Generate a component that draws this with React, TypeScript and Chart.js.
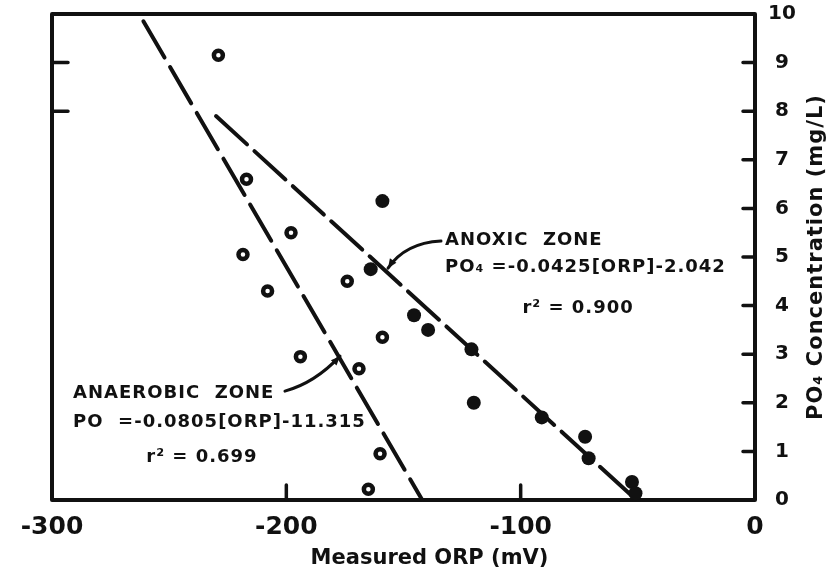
import React, { useEffect, useRef } from "react";
import { Chart, registerables } from "chart.js";

Chart.register(...registerables);

// ---- data ----
const xTickValues = [-300, -200, -100, 0];
const yTickValues = [0, 1, 2, 3, 4, 5, 6, 7, 8, 9, 10];

const anaerobicORP = [-229, -217, -198, -218.5, -208, -174, -194, -169, -159, -160, -165];
const anaerobicPO4 = [9.15, 6.6, 5.5, 5.05, 4.3, 4.5, 2.95, 2.7, 3.35, 0.95, 0.22];

const anoxicORP = [-159, -164, -145.5, -139.5, -121, -120, -91, -72.5, -71, -52.5, -51];
const anoxicPO4 = [6.15, 4.75, 3.8, 3.5, 3.1, 2.0, 1.7, 1.3, 0.86, 0.37, 0.14];

const anaerobicFitORP = [-261, -142];
const anaerobicFitPO4 = [9.85, 0];
const anoxicFitORP = [-230, -52];
const anoxicFitPO4 = [7.9, 0.06];

const rightInnerTicks = [1, 2, 3, 4, 5, 6, 7, 8, 9];
const leftInnerTicks = [8, 9];
const bottomInnerTicks = [-200, -100];

const xTitle = "Measured ORP (mV)";
const yTitle = "PO\u2084 Concentration (mg/L)";

const anoxicLines = ["ANOXIC  ZONE", "PO\u2084 =-0.0425[ORP]-2.042", "r\u00B2 = 0.900"];
const anaerobicLines = ["ANAEROBIC  ZONE", "PO  =-0.0805[ORP]-11.315", "r\u00B2 = 0.699"];

// annotation anchors in data units [ORP, PO4]
const anoxicTextAt = [[-132.3, 5.35], [-132.3, 4.79], [-75.5, 3.95]];
const anaerobicTextAt = [[-291, 2.2], [-291, 1.6], [-236, 0.88]];
const anoxicLeader = [[-134, 5.33], [-149.4, 5.29], [-156.6, 4.77]];
const anaerobicLeader = [[-200.6, 2.24], [-187.8, 2.41], [-177.1, 2.96]];

const INK = "#111";
const FONT = "'DejaVu Sans', sans-serif";

const zip = (xs: number[], ys: number[]) => xs.map((x, i) => ({ x, y: ys[i] }));

const decorPlugin = {
  id: "decor",
  beforeDatasetsDraw(chart: any) {
    const { ctx, chartArea: a, scales } = chart;
    const xs = scales.x;
    const ys = scales.y;
    ctx.save();
    ctx.strokeStyle = INK;
    ctx.lineWidth = 4;
    ctx.lineCap = "round";
    ctx.lineJoin = "round";
    ctx.strokeRect(a.left, a.top, a.right - a.left, a.bottom - a.top);
    ctx.lineWidth = 3.5;
    ctx.beginPath();
    rightInnerTicks.forEach((v) => {
      const py = ys.getPixelForValue(v);
      ctx.moveTo(a.right, py);
      ctx.lineTo(a.right - 12, py);
    });
    leftInnerTicks.forEach((v) => {
      const py = ys.getPixelForValue(v);
      ctx.moveTo(a.left, py);
      ctx.lineTo(a.left + 16, py);
    });
    bottomInnerTicks.forEach((v) => {
      const px = xs.getPixelForValue(v);
      ctx.moveTo(px, a.bottom);
      ctx.lineTo(px, a.bottom - 15);
    });
    ctx.stroke();
    ctx.restore();
  },
  afterDatasetsDraw(chart: any) {
    const { ctx, chartArea: a, scales } = chart;
    const xs = scales.x;
    const ys = scales.y;
    const P = (p: number[]) => [xs.getPixelForValue(p[0]), ys.getPixelForValue(p[1])];
    ctx.save();
    ctx.fillStyle = INK;
    ctx.strokeStyle = INK;

    // axis titles
    ctx.font = `bold 21px ${FONT}`;
    ctx.textAlign = "center";
    ctx.textBaseline = "middle";
    ctx.fillText(xTitle, (a.left + a.right) / 2 + 26, a.bottom + 59);
    ctx.save();
    ctx.translate(a.right + 62, (a.top + a.bottom) / 2);
    ctx.rotate(-Math.PI / 2);
    ctx.font = `bold 21px ${FONT}`;
    (ctx as any).letterSpacing = "1px";
    ctx.fillText(yTitle, 0, 0);
    ctx.restore();

    // annotations
    const drawBlock = (lines: string[], at: number[][]) => {
      lines.forEach((t, i) => {
        const [px, py] = P(at[i]);
        ctx.font = `bold 18px ${FONT}`;
        (ctx as any).letterSpacing = "1px";
        ctx.textAlign = i === 2 ? "center" : "left";
        ctx.textBaseline = "middle";
        ctx.fillText(t, px, py);
      });
      (ctx as any).letterSpacing = "0px";
    };
    drawBlock(anoxicLines, anoxicTextAt);
    drawBlock(anaerobicLines, anaerobicTextAt);

    const drawLeader = (pts: number[][]) => {
      const [p0, c, p2] = pts.map(P);
      ctx.lineWidth = 3;
      ctx.lineCap = "round";
      ctx.beginPath();
      ctx.moveTo(p0[0], p0[1]);
      ctx.quadraticCurveTo(c[0], c[1], p2[0], p2[1]);
      ctx.stroke();
      const ang = Math.atan2(p2[1] - c[1], p2[0] - c[0]);
      const L = 10;
      ctx.beginPath();
      ctx.moveTo(p2[0], p2[1]);
      ctx.lineTo(p2[0] - L * Math.cos(ang - 0.4), p2[1] - L * Math.sin(ang - 0.4));
      ctx.lineTo(p2[0] - L * Math.cos(ang + 0.4), p2[1] - L * Math.sin(ang + 0.4));
      ctx.closePath();
      ctx.fill();
    };
    drawLeader(anoxicLeader);
    drawLeader(anaerobicLeader);
    ctx.restore();
  },
};

export default function App() {
  const ref = useRef<HTMLCanvasElement | null>(null);
  useEffect(() => {
    if (!ref.current) return;
    const chart = new Chart(ref.current, {
      type: "scatter",
      data: {
        datasets: [
          {
            label: "Anaerobic zone",
            data: zip(anaerobicORP, anaerobicPO4),
            pointStyle: "circle",
            pointRadius: 4.5,
            pointBorderWidth: 4.5,
            pointBackgroundColor: "#fff",
            pointBorderColor: INK,
            order: 1,
            clip: false,
          },
          {
            label: "Anoxic zone",
            data: zip(anoxicORP, anoxicPO4),
            pointStyle: "circle",
            pointRadius: 7,
            pointBorderWidth: 0,
            pointBackgroundColor: INK,
            pointBorderColor: INK,
            order: 1,
            clip: false,
          },
          {
            label: "Anaerobic fit",
            data: zip(anaerobicFitORP, anaerobicFitPO4),
            showLine: true,
            borderColor: INK,
            borderWidth: 4,
            borderDash: [42, 11],
            borderCapStyle: "round",
            pointRadius: 0,
            order: 2,
            clip: false,
          },
          {
            label: "Anoxic fit",
            data: zip(anoxicFitORP, anoxicFitPO4),
            showLine: true,
            borderColor: INK,
            borderWidth: 4,
            borderDash: [42, 10],
            borderCapStyle: "round",
            pointRadius: 0,
            order: 2,
            clip: false,
          },
        ],
      } as any,
      options: {
        animation: false,
        responsive: false,
        devicePixelRatio: 1,
        layout: { padding: { left: 52, top: 14, right: 0, bottom: 0 } },
        plugins: { legend: { display: false }, tooltip: { enabled: false }, title: { display: false } },
        scales: {
          x: {
            type: "linear",
            position: "bottom",
            min: -300,
            max: 0,
            afterBuildTicks: (s: any) => {
              s.ticks = xTickValues.map((value) => ({ value }));
            },
            afterFit: (s: any) => {
              s.height = 76;
              s.paddingLeft = 0;
              s.paddingRight = 0;
            },
            grid: { display: false, drawTicks: false },
            border: { display: false },
            ticks: {
              color: INK,
              padding: 12,
              font: { family: FONT, size: 25, weight: "bold" },
              callback: (v: any) => String(v),
            },
          },
          y: {
            type: "linear",
            position: "right",
            min: 0,
            max: 10,
            afterBuildTicks: (s: any) => {
              s.ticks = yTickValues.map((value) => ({ value }));
            },
            afterFit: (s: any) => {
              s.width = 77;
              s.paddingTop = 0;
              s.paddingBottom = 0;
            },
            grid: { display: false, drawTicks: false },
            border: { display: false },
            ticks: {
              color: INK,
              padding: 13,
              crossAlign: "center",
              font: { family: FONT, size: 20, weight: "bold" },
              callback: (v: any) => String(v),
            },
          },
        },
      } as any,
      plugins: [decorPlugin],
    });
    return () => chart.destroy();
  }, []);
  return (
    <div style={{ position: "absolute", left: 0, top: 0, width: 832, height: 576, background: "#fff" }}>
      <canvas ref={ref} width={832} height={576} style={{ display: "block" }} />
    </div>
  );
}
